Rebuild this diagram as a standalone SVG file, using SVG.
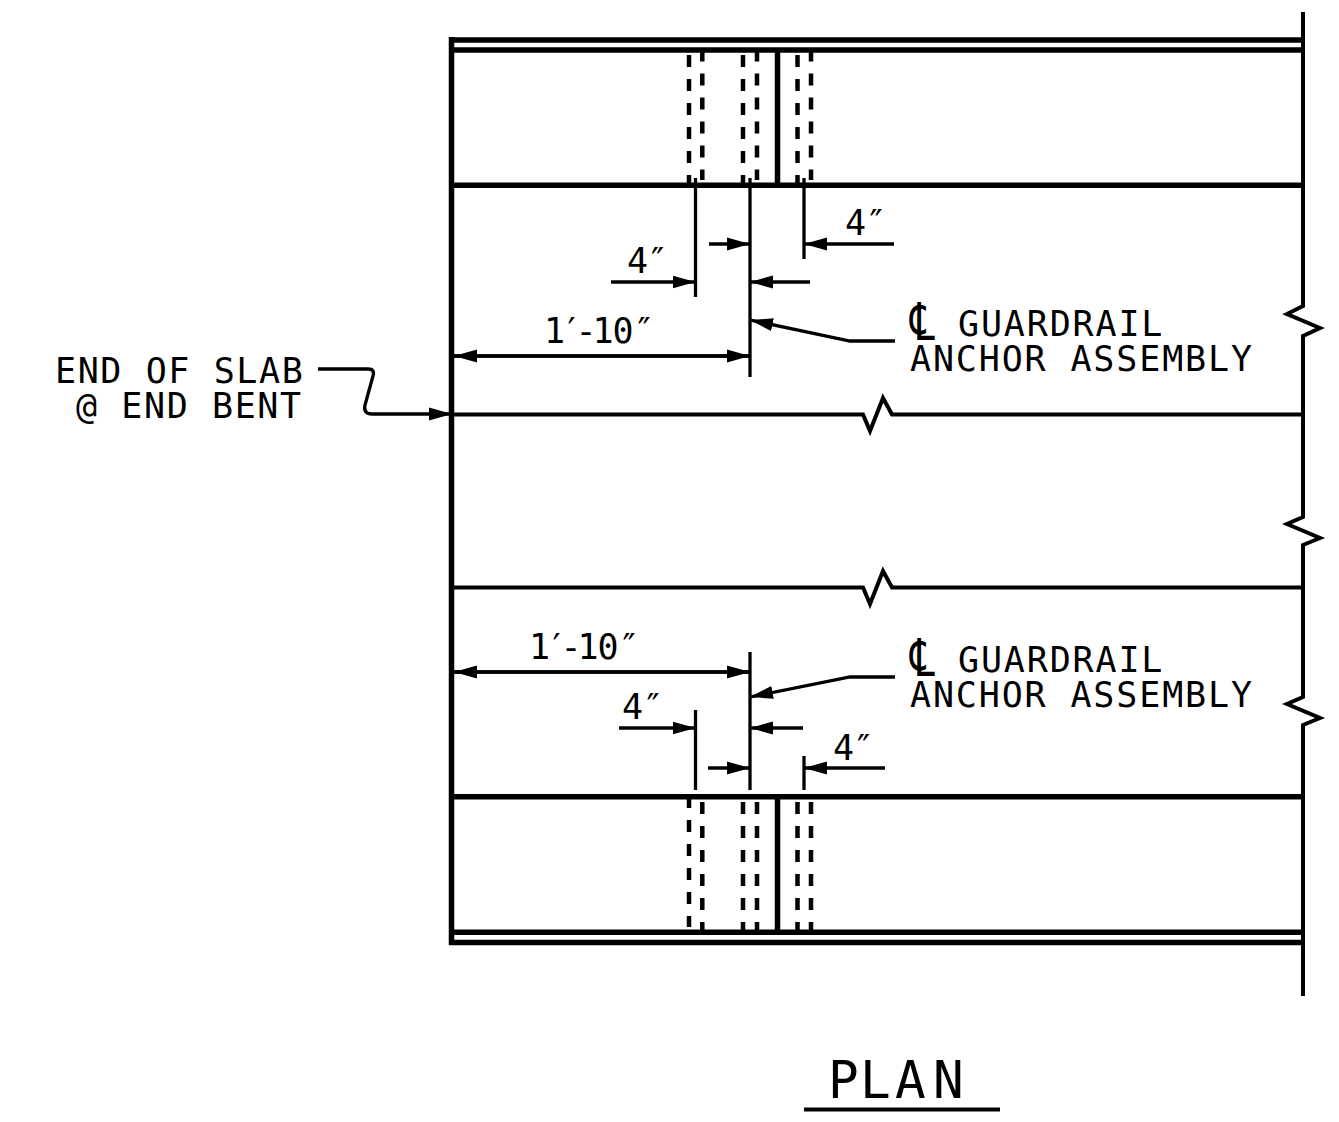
<svg xmlns="http://www.w3.org/2000/svg" width="1339" height="1122" viewBox="0 0 1339 1122">
<defs>
<marker id="ah" markerUnits="userSpaceOnUse" markerWidth="24" markerHeight="14" refX="23" refY="7" orient="auto"><path d="M0 0.500L23 7L0 13.500Z" fill="#000"/></marker>
</defs>
<style>
.t{font-family:"DejaVu Sans Mono","Liberation Mono",monospace;font-size:35px;letter-spacing:1.85px;fill:#000}
.e{letter-spacing:1.6px}
.c{font-family:"DejaVu Sans Mono","DejaVu Sans",sans-serif;font-size:52px;fill:#000}
.n{font-family:"DejaVu Sans Mono","Liberation Mono",monospace;font-size:35px;fill:#000}
.h{stroke:#000;stroke-width:5.500;fill:none}
.m{stroke:#000;stroke-width:4;fill:none}
.l{stroke:#000;stroke-width:3.300;fill:none}
.a{stroke:#000;stroke-width:3.300;fill:none;marker-end:url(#ah)}
.d{stroke:#000;stroke-width:4.500;fill:none;stroke-dasharray:12 12}
</style>
<rect width="1339" height="1122" fill="#fff"/>
<g id="slab">
<path class="h" d="M449 40H1303M449 50H1303M451.500 37V945M452 185.300H1303M452 796.700H1303M449 932.300H1303M449 942.500H1303M777.500 50V185M777.500 797V932"/>
<path class="m" d="M452 414.500H863L870 431L883 398L892 414.500H1303M452 587.500H863L870 604L883 571L892 587.500H1303"/>
<path class="m" d="M1303 12V306L1287 314L1320 328L1303 336V517L1287 524L1320 538L1303 545V697L1287 704L1320 718L1303 725V996"/>
<path class="d" d="M689 55V185M743 55V185M797.500 55V185M702.300 49.500V180M757 49.500V180M811 49.500V180"/>
<path class="d" d="M689 796V927M702.300 802V932M743 802V932M757 802V932M797.500 802V932M811 802V932"/>
</g>
<g id="connectors">
<path class="l" d="M695.500 178V297M750 178V377M804 178V259M750 652V790M695.500 710V790M804 756V790"/>
<path class="a" d="M709 244H750"/><path class="a" d="M894 244H804"/><path class="a" d="M611 282H695.500"/><path class="a" d="M810 282H750"/>
<path class="a" d="M895 341H850L750 320"/><path class="a" d="M454 356H750"/><path class="a" d="M750 356H454"/>
<path class="a" d="M454 672H750"/><path class="a" d="M750 672H454"/>
<path class="a" d="M895 677H850L750 697"/><path class="a" d="M619 728H695.500"/><path class="a" d="M803 728H750"/><path class="a" d="M708 768H750"/><path class="a" d="M885 768H804"/>
<path class="a" d="M318 369H368Q375 369 373 376L365 405Q363 414 372 414H452"/>
<path class="l" style="stroke-width:4" d="M804 1109.500H1000"/>
</g>
<g id="label-end"><text class="t e" x="55" y="383">END OF SLAB</text><text class="t e" x="76" y="418">@ END BENT</text></g>
<g id="label-cl-top"><text class="c" transform="translate(910 340) scale(.74 1)">℄</text><text class="t" x="958" y="336">GUARDRAIL</text><text class="t" x="910" y="371">ANCHOR ASSEMBLY</text></g>
<g id="label-cl-bot"><text class="c" transform="translate(910 676) scale(.74 1)">℄</text><text class="t" x="958" y="672">GUARDRAIL</text><text class="t" x="910" y="707">ANCHOR ASSEMBLY</text></g>
<g id="dims">
<text class="n" x="845 865.500" y="235">4″</text><text class="n" x="627 647" y="273">4″</text><text class="n" x="544 561 575.500 592.500 612.500 633.500" y="343">1′-10″</text>
<text class="n" x="529 546 560.500 577.500 597.500 618.500" y="659">1′-10″</text><text class="n" x="622 642.500" y="719">4″</text><text class="n" x="833 853" y="760">4″</text>
</g>
<g id="title"><text class="t" style="font-size:51px;letter-spacing:0" x="828 860 895 933" y="1098">PLAN</text></g>
</svg>
